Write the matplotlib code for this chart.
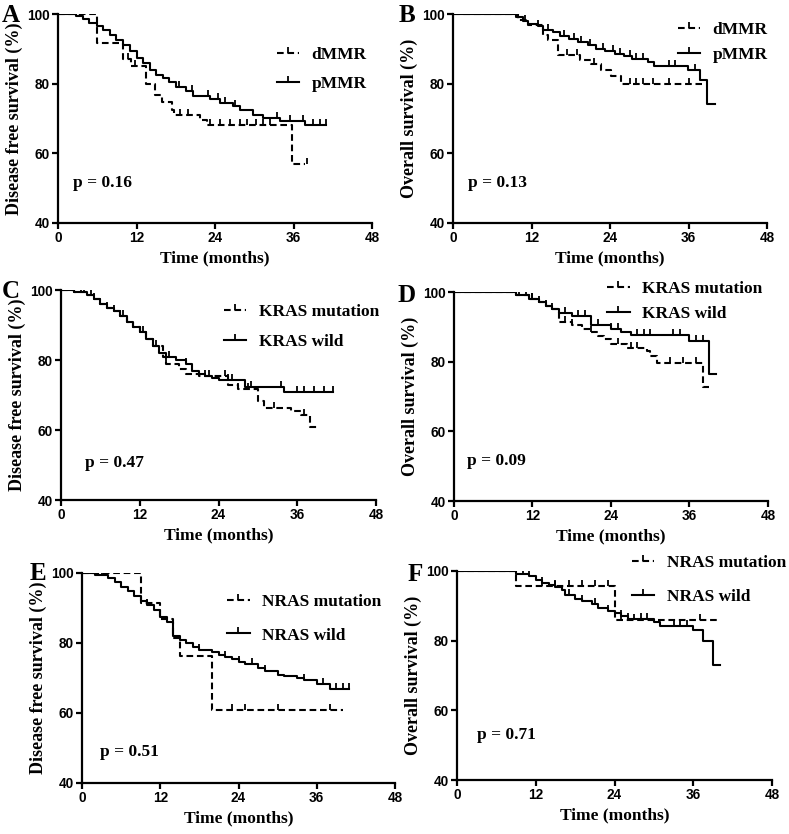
import numpy as np
import matplotlib
matplotlib.use('Agg')
import matplotlib.pyplot as plt
from matplotlib.path import Path
from matplotlib.lines import Line2D

serif = 'Liberation Serif'
sans = 'Liberation Sans'

# ---- data: step times (months) / survival (%) / end time / censor times ----
# A: DFS by MMR
a_d_t = [0, 6, 10, 11.2, 13.5, 14.8, 15.9, 17.5, 17.8, 21.7, 22.8, 35.8]
a_d_s = [100, 91.6, 87.2, 85.1, 80.0, 76.7, 74.8, 72.4, 71.0, 69.7, 68.0, 56.9]
a_d_end = 37.7
a_d_c = [2, 10.7, 11.8, 18.7, 19.9, 23.2, 24.8, 26.3, 27.8, 28.9, 30.3, 31.3, 32.4, 38]
a_p_t = [0, 2.8, 3.8, 4.8, 5.9, 6.9, 7.9, 8.9, 9.9, 11, 12, 13, 14, 15, 16, 17,
         18, 19.6, 20.6, 23.2, 24.7, 26.8, 27.8, 29.8, 31.3, 33.9, 37.7]
a_p_s = [100, 99.5, 98.5, 97.5, 96.5, 95.5, 94, 92.5, 91, 89.5, 87.5, 86, 84, 82.5,
         81.5, 80.5, 79.1, 77.8, 76.5, 75.5, 74.5, 73.5, 72.5, 71, 70.2, 69.3, 68]
a_p_end = 41
a_p_c = [2, 3.5, 18.5, 20.5, 23, 24.5, 25.5, 27, 33.5, 35.5, 37.5, 39, 40, 41]

# B: OS by MMR
b_d_t = [0, 10, 11.5, 13.8, 14.5, 16, 19.4, 21.1, 22.7, 24.1, 25.7]
b_d_s = [100, 98.3, 96.8, 94, 92.5, 88.2, 86.8, 85.6, 83.9, 82.2, 79.9]
b_d_end = 38
b_d_c = [6, 7, 17.5, 19, 21.5, 27, 28, 29, 30.5, 33, 36]
b_p_t = [0, 9.7, 10.7, 11.5, 13, 13.8, 15.3, 16.3, 17.8, 19.1, 20.6, 21.9, 23.2,
         24.7, 26.2, 27.3, 29.8, 30.8, 35.9, 37.7, 38.9]
b_p_s = [100, 99, 98, 97.2, 96.5, 95.5, 94.8, 93.8, 92.7, 92, 91, 90, 89.3, 88.5,
         87.8, 87, 86.2, 85, 84, 81, 74.3]
b_p_end = 40
b_p_c = [6, 7, 8, 9, 10, 11, 13, 14.5, 17, 18.5, 19.5, 21, 23, 24.5, 25.5, 27, 28,
         29, 33, 34, 37]

# C: DFS by KRAS
c_m_t = [0, 2, 4, 5, 6, 7, 8, 9, 10, 11, 12, 13, 14, 15.5, 16, 18, 19, 21, 25.5,
         27, 30, 31, 35, 36.5, 38]
c_m_s = [100, 99.5, 98.5, 97.5, 96, 95, 94, 92.5, 91, 89.5, 88, 86, 84, 81, 78.8,
         77.5, 76, 75.3, 72.8, 71.6, 68.3, 66.2, 65.5, 64.3, 60.9]
c_m_end = 39
c_m_c = [2, 3, 5, 8, 9, 12.5, 14, 16, 22, 25, 27, 28.5, 32.5, 37]
c_w_t = [0, 2, 4, 5, 6, 7, 8, 9, 10, 11, 12, 13, 14, 15, 16, 17.5, 19, 20, 21, 22,
         23, 24, 28, 34]
c_w_s = [100, 99.5, 98.5, 97.5, 96, 95, 94, 92.5, 91, 89.5, 88, 86, 84, 82, 81, 80,
         79, 77, 76, 75.5, 75, 74.3, 72.3, 71]
c_w_end = 41.5
c_w_c = [2, 3.5, 4.5, 7, 9.5, 14.5, 16.5, 19, 22.5, 25.5, 26, 29, 33.5, 36, 37,
         38.5, 40, 41.5]

# D: OS by KRAS
d_m_t = [0, 9.5, 11.5, 13, 14, 15, 16, 18, 19.5, 21, 22, 23, 24, 26.5, 29.5, 30,
         31, 38]
d_m_s = [100, 99, 98, 97, 96, 95, 91.4, 90.5, 89.5, 88.5, 87.5, 86.5, 85.2, 84, 83,
         81.5, 79.5, 72.8]
d_m_end = 39
d_m_c = [6, 7, 8, 10, 12, 14, 17, 18, 21, 25, 27, 28, 33, 35, 37]
d_w_t = [0, 9.5, 11.5, 13, 14, 15, 16, 18, 21, 24, 25.5, 27, 36, 39]
d_w_s = [100, 99, 98, 97, 96, 95, 94, 93, 90.4, 89.5, 88.5, 87.6, 86, 76.5]
d_w_end = 40
d_w_c = [6, 7, 8, 9, 11, 12, 13, 15, 17, 19, 20, 22, 24, 25, 28, 29, 30, 33.5,
         34.5, 37, 38]

# E: DFS by NRAS
e_m_t = [0, 9, 12, 14, 15, 20]
e_m_s = [100, 91.4, 87.0, 81.5, 76.3, 61.0]
e_m_end = 40
e_m_c = [2, 23, 25, 30, 38]
e_w_t = [0, 2, 4, 5, 6, 7, 8, 9, 10, 11, 12, 13, 14, 15, 16, 17, 18, 20, 21, 22,
         23, 24, 25, 27, 28, 30, 31, 33, 34, 36, 38]
e_w_s = [100, 99.5, 98.5, 97.5, 96, 95, 93.5, 92, 91, 89.5, 87.5, 86, 82, 81, 80,
         79, 78, 77.5, 76.5, 76, 75.5, 74.6, 74, 73, 72, 71, 70.5, 70, 69.3, 68.2, 67]
e_w_end = 41
e_w_c = [2, 3, 10, 18, 22, 24, 26, 28, 34, 37, 39, 40, 41]

# F: OS by NRAS
f_m_t = [0, 9, 24]
f_m_s = [100, 95.7, 86.0]
f_m_end = 40
f_m_c = [7.5, 13, 15, 17, 19, 21, 23, 25, 27, 37]
f_w_t = [0, 9, 11, 12, 13, 14, 15, 16, 16.5, 18, 19, 20.5, 21.5, 23, 24, 25, 26,
         30, 31, 36, 37.5, 39]
f_w_s = [100, 99, 98.5, 97.5, 96.5, 96, 95.5, 94.5, 93, 92, 91.5, 90.5, 89.5, 88.5,
         87.8, 87, 86.2, 85.3, 84.2, 83, 79.9, 73]
f_w_end = 40
f_w_c = [6, 7, 8, 10, 11, 13, 15, 17, 19, 21, 23, 25, 26, 28, 29, 33, 34, 35]

panels = [
    ('A', 'Disease free survival (%)', ['dMMR', 'pMMR'],
     [(a_d_t, a_d_s, a_d_end, a_d_c), (a_p_t, a_p_s, a_p_end, a_p_c)], 'p = 0.16'),
    ('B', 'Overall survival (%)', ['dMMR', 'pMMR'],
     [(b_d_t, b_d_s, b_d_end, b_d_c), (b_p_t, b_p_s, b_p_end, b_p_c)], 'p = 0.13'),
    ('C', 'Disease free survival (%)', ['KRAS mutation', 'KRAS wild'],
     [(c_m_t, c_m_s, c_m_end, c_m_c), (c_w_t, c_w_s, c_w_end, c_w_c)], 'p = 0.47'),
    ('D', 'Overall survival (%)', ['KRAS mutation', 'KRAS wild'],
     [(d_m_t, d_m_s, d_m_end, d_m_c), (d_w_t, d_w_s, d_w_end, d_w_c)], 'p = 0.09'),
    ('E', 'Disease free survival (%)', ['NRAS mutation', 'NRAS wild'],
     [(e_m_t, e_m_s, e_m_end, e_m_c), (e_w_t, e_w_s, e_w_end, e_w_c)], 'p = 0.51'),
    ('F', 'Overall survival (%)', ['NRAS mutation', 'NRAS wild'],
     [(f_m_t, f_m_s, f_m_end, f_m_c), (f_w_t, f_w_s, f_w_end, f_w_c)], 'p = 0.71'),
]

# layout (pixels / axes fractions), legend anchors, label spots
W, H = 789, 834
boxes = [(58, 14, 372, 223), (453, 14, 767, 223),
         (61, 290, 376, 500), (454, 292, 768, 501),
         (82, 573, 395, 783), (457, 571, 772, 780)]
legend_at = [(0.675, 0.876), (0.694, 0.995), (0.495, 0.967), (0.465, 1.086),
             (0.441, 0.933), (0.533, 1.110)]
legend_gap = [0.76, 0.53, 0.81, 0.53, 0.99, 1.04]
letter_at = [(2, 4), (399, 4), (2, 280), (398, 284), (30, 562), (408, 563)]
p_at = [(2.3, 51.5), (2.3, 51.5), (3.6, 50.6), (2.0, 51.5), (2.7, 49.0), (3.0, 52.8)]

tick_mark = Path([(0, 0), (0, 1)], [Path.MOVETO, Path.LINETO])
styles = [dict(ls=(0, (3.2, 1.8))), dict(ls='-')]

fig = plt.figure(figsize=(W / 100, H / 100), dpi=100)

for i, (letter, ylab, names, series, ptxt) in enumerate(panels):
    l, t, r, b = boxes[i]
    ax = fig.add_axes([l / W, 1 - b / H, (r - l) / W, (b - t) / H])
    handles = []
    for (tt, ss, tend, cens), st in zip(series, styles):
        tt = np.array(tt, float)
        ss = np.array(ss, float)
        ax.step(np.append(tt, tend), np.append(ss, ss[-1]), where='post',
                color='black', lw=1.5, **st)
        cens = np.array(cens, float)
        cy = ss[np.searchsorted(tt, cens, side='right') - 1]
        ax.plot(cens, cy, ls='none', marker=tick_mark, ms=8, mew=1.3, color='black')
        handles.append(Line2D([], [], color='black', lw=1.5, marker=tick_mark,
                              ms=8, mew=1.3, **st))
    ax.legend(handles, names, loc='upper left', bbox_to_anchor=legend_at[i],
              frameon=False, handlelength=1.3, handletextpad=0.7,
              labelspacing=legend_gap[i], borderaxespad=0,
              prop=dict(family=serif, weight='bold', size=12.5))
    ax.text(p_at[i][0], p_at[i][1], ptxt, family=serif, weight='bold', fontsize=12.5,
            va='center', ha='left')
    ax.set_xlim(0, 48)
    ax.set_ylim(40, 100)
    ax.set_xticks([0, 12, 24, 36, 48])
    ax.set_yticks([40, 60, 80, 100])
    for s in ['top', 'right']:
        ax.spines[s].set_visible(False)
    for s in ['left', 'bottom']:
        ax.spines[s].set_linewidth(1.6)
    ax.tick_params(width=1.6, length=4.5, direction='out', pad=1.5)
    for lab in ax.get_xticklabels() + ax.get_yticklabels():
        lab.set_fontfamily(sans)
        lab.set_fontweight('bold')
        lab.set_fontsize(9.8)
    ax.set_xlabel('Time (months)', family=serif, weight='bold', fontsize=12.5, labelpad=4)
    ax.set_ylabel(ylab, family=serif, weight='bold', fontsize=13, labelpad=3)
    fig.text(letter_at[i][0] / W, 1 - letter_at[i][1] / H, letter, family=serif,
             weight='bold', fontsize=18, va='top', ha='left')

fig.savefig('out.png', dpi=100)
